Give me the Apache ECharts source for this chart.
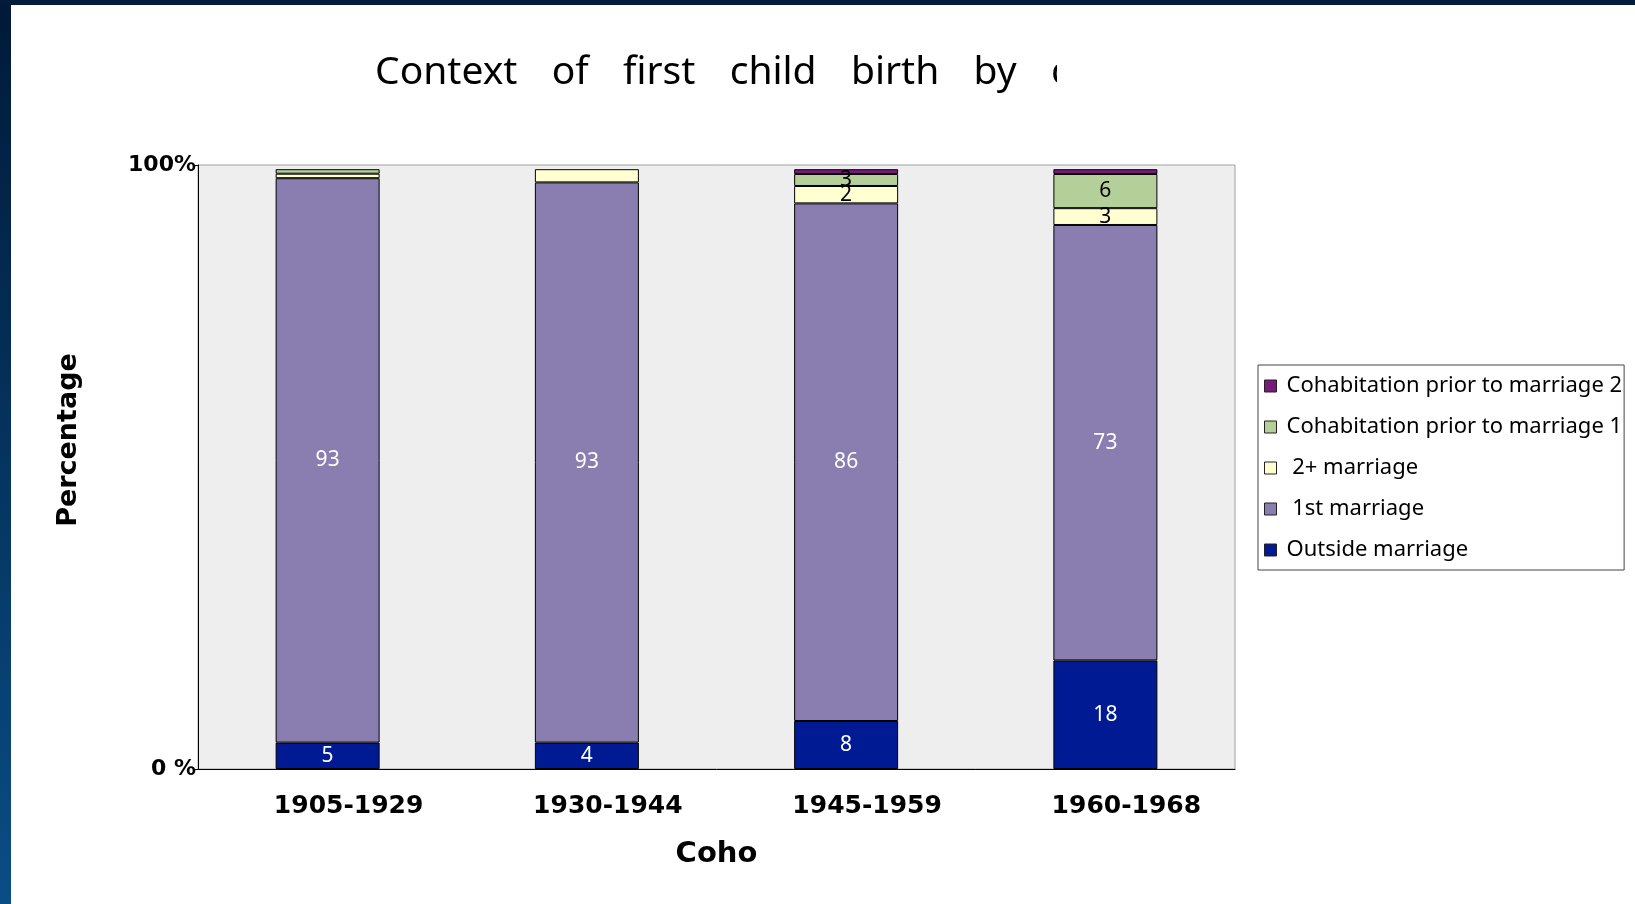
<!DOCTYPE html>
<html><head><meta charset="utf-8">
<script src="https://cdn.jsdelivr.net/npm/echarts@6/dist/echarts.min.js"></script>
<style>
html,body{margin:0;padding:0;background:#fff;}
#stripeL{position:absolute;left:0;top:0;width:11px;height:904px;background:linear-gradient(#001a38,#0a4d85);}
#stripeT{position:absolute;left:0;top:0;width:1635px;height:5px;background:#001c3a;}
#chart{position:absolute;left:0;top:0;width:1635px;height:904px;}
</style></head><body>
<div id="stripeL"></div><div id="stripeT"></div>
<div id="chart"></div>
<script>
// ---- data (percent of each cohort) ----
const categories = ['1905-1929', '1930-1944', '1945-1959', '1960-1968'];
const outsideMarriage = [4.4, 4.4, 8.0, 18.1];
const firstMarriage   = [94.1, 93.4, 86.3, 72.6];
const secondMarriage  = [0.75, 2.2, 2.9, 2.8];
const cohabPrior1     = [0.75, 0, 2.0, 5.7];
const cohabPrior2     = [0, 0, 0.8, 0.8];
// data labels printed on the bars (null = no label)
const outsideLabels = [5, 4, 8, 18];
const firstLabels   = [93, 93, 86, 73];
const secondLabels  = [null, null, 2, 3];
const cohab1Labels  = [null, null, 3, 6];
const cohab2Labels  = [null, null, null, null];
const yTickLabels = ['0 %', '100%'];

const seriesNames = ['Outside marriage', ' 1st marriage', ' 2+ marriage', 'Cohabitation prior to marriage 1', 'Cohabitation prior to marriage 2'];
const seriesData = [outsideMarriage, firstMarriage, secondMarriage, cohabPrior1, cohabPrior2];
const seriesLabels = [outsideLabels, firstLabels, secondLabels, cohab1Labels, cohab2Labels];
const seriesColors = ['#001a94', '#8a7db0', '#ffffd2', '#b5cf9a', '#7a1a78'];
const labelColors = ['#ffffff', '#ffffff', '#000000', '#000000', '#000000'];

const chart = echarts.init(document.getElementById('chart'), null, {renderer: 'canvas'});

const series = seriesNames.map((name, i) => ({
  name: name,
  type: 'bar',
  stack: 'total',
  barWidth: 104,
  data: seriesData[i].map(v => v === 0 ? null : v),
  itemStyle: {color: seriesColors[i], borderColor: '#000', borderWidth: 1},
  label: {
    show: true,
    position: 'inside',
    color: labelColors[i],
    fontFamily: 'Noto Sans',
    fontSize: 21,
    formatter: p => { const v = seriesLabels[i][p.dataIndex]; return v == null ? '' : String(v); }
  },
  emphasis: {disabled: true}
}));

const gap = '   \u200A';
const titleText = ['Context', 'of', 'first', 'child', 'birth', 'by', 'cohort'].join(gap);

const option = {
  animation: false,
  title: {
    text: titleText,
    left: 375, top: 53, padding: 0,
    textStyle: {fontFamily: 'Noto Sans', fontSize: 39, fontWeight: 'normal', color: '#000'}
  },
  legend: {
    orient: 'vertical',
    left: 1258, top: 365,
    data: seriesNames.slice().reverse(),
    icon: 'rect',
    itemWidth: 12, itemHeight: 12, itemGap: 19,
    padding: [10, 2, 9, 6],
    backgroundColor: '#fff', borderColor: '#444', borderWidth: 1,
    selectedMode: false,
    itemStyle: {borderColor: '#222', borderWidth: 1},
    textStyle: {fontFamily: 'Noto Sans', fontSize: 22, lineHeight: 22, color: '#000', padding: [0, 0, 0, 5]}
  },
  grid: {
    left: 198, right: 400, top: 165, bottom: 135,
    show: true, backgroundColor: '#eeeeee', borderColor: '#a0a0a0', borderWidth: 1
  },
  xAxis: {
    type: 'category',
    data: categories,
    axisLine: {lineStyle: {color: '#000', width: 1}},
    axisTick: {length: 5, lineStyle: {color: '#000'}},
    axisLabel: {fontFamily: 'DejaVu Sans', fontWeight: 'bold', fontSize: 25, lineHeight: 25, color: '#000', margin: 25, padding: [0, 0, 0, 42]},
    name: 'Coho', nameLocation: 'middle', nameGap: 71,
    nameTextStyle: {fontFamily: 'DejaVu Sans', fontWeight: 'bold', fontSize: 29, color: '#000'}
  },
  yAxis: {
    type: 'value', min: 0, max: 100.7, interval: 100.7,
    splitLine: {show: false},
    axisLine: {show: true, lineStyle: {color: '#000', width: 1}},
    axisTick: {show: true, length: 5, lineStyle: {color: '#000'}},
    axisLabel: {
      formatter: v => v === 0 ? yTickLabels[0] : yTickLabels[1],
      fontFamily: 'DejaVu Sans', fontWeight: 'bold', fontSize: 22, color: '#000', margin: 2
    },
    name: 'Percentage', nameLocation: 'middle', nameGap: 116, nameRotate: 90,
    nameTextStyle: {fontFamily: 'DejaVu Sans', fontWeight: 'bold', fontSize: 27, color: '#000', padding: [0, 0, 0, 54]}
  },
  graphic: [
    {type: 'rect', left: 1057, top: 30, z: 100, shape: {width: 300, height: 80}, style: {fill: '#fff'}}
  ],
  series: series
};
chart.setOption(option);
</script>
</body></html>
